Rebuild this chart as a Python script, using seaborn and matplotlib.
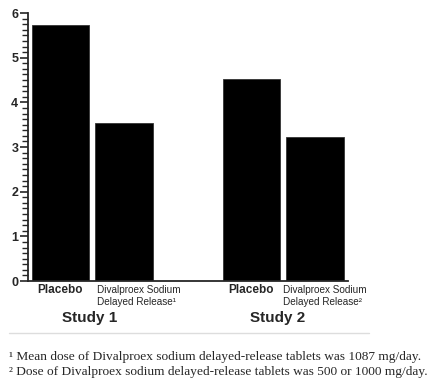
import matplotlib
matplotlib.use("Agg")
import matplotlib.pyplot as plt
import seaborn as sns
import pandas as pd
from matplotlib.ticker import MultipleLocator

sns.set_style("ticks")

# ---- data ----
bar_ids = ["S1 Placebo", "S1 Divalproex", "S2 Placebo", "S2 Divalproex"]
values = [5.73, 3.53, 4.52, 3.22]
order = ["S1 Placebo", "S1 Divalproex", "gap", "S2 Placebo", "S2 Divalproex"]
placebo_label = "Placebo"
drug_labels = ["Divalproex Sodium\nDelayed Release\u00b9", "Divalproex Sodium\nDelayed Release\u00b2"]
study_labels = ["Study 1", "Study 2"]
footnotes = [
    "\u00b9 Mean dose of Divalproex sodium delayed-release tablets was 1087 mg/day.",
    "\u00b2 Dose of Divalproex sodium delayed-release tablets was 500 or 1000 mg/day.",
]
yticks = [0, 1, 2, 3, 4, 5, 6]

bold = dict(family="Liberation Sans", fontweight="bold")

df = pd.DataFrame({"bar": bar_ids, "value": values})

fig = plt.figure(figsize=(4.34, 3.86), dpi=100)
ax = fig.add_axes([28 / 434, 1 - 281 / 386, 320 / 434, 268 / 386])
sns.barplot(data=df, x="bar", y="value", order=order, color="black",
            width=0.9, edgecolor="#333333", linewidth=0.6, saturation=1, ax=ax)

ax.set_xlim(-0.51, 4.52)
ax.set_ylim(0, 6)
ax.set_xlabel("")
ax.set_ylabel("")
ax.set_xticks([])
ax.set_yticks(yticks)
ax.yaxis.set_minor_locator(MultipleLocator(0.125))
ax.tick_params(axis="y", which="major", length=6, width=1.2, pad=1, labelsize=9)
ax.tick_params(axis="y", which="minor", length=4, width=1.0)
for lab in ax.get_yticklabels():
    lab.set_fontfamily("Liberation Sans")
    lab.set_fontweight("bold")
for s in ["top", "right"]:
    ax.spines[s].set_visible(False)
ax.spines["left"].set_linewidth(1.3)
ax.spines["bottom"].set_linewidth(1.3)


def fx(px):
    return px / 434


def fy(py):
    return 1 - py / 386


for cx, dx, dl, sx, sl in [(60, 97, drug_labels[0], 90, study_labels[0]),
                           (251, 283, drug_labels[1], 278, study_labels[1])]:
    fig.text(fx(cx), fy(290), placebo_label, ha="center", va="center",
             fontsize=8.5, **bold)
    fig.text(fx(dx), fy(296), dl, ha="left", va="center", fontsize=7.2,
             family="Liberation Sans", linespacing=1.25)
    fig.text(fx(sx), fy(318), sl, ha="center", va="center",
             fontsize=11, **bold)

fig.add_artist(plt.Line2D([fx(9), fx(369)], [fy(333), fy(333)], color="#dddddd", lw=1))

for i, t in enumerate(footnotes):
    fig.text(fx(9), fy(357 + 15 * i), t, ha="left", va="center",
             fontsize=9.6, family="Liberation Serif")

fig.savefig("out.png", dpi=100, facecolor="white")
